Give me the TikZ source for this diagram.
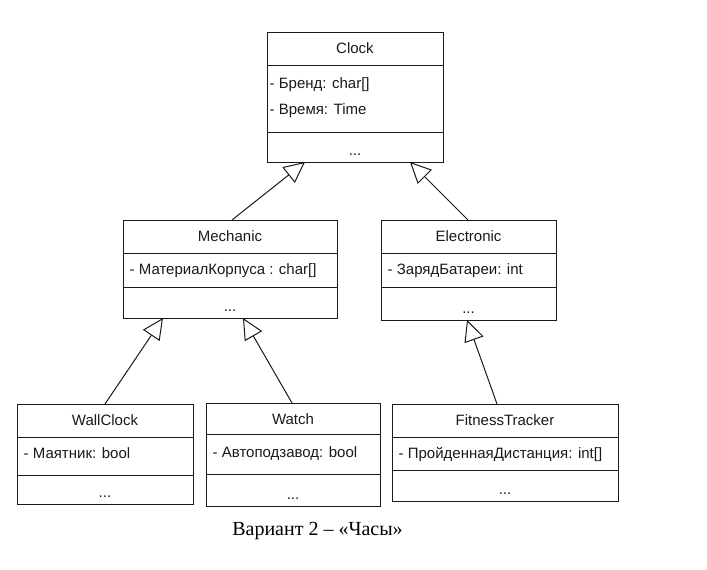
\documentclass[tikz,border=0pt]{standalone}
\usepackage{fontspec}
\setmainfont{Liberation Serif}
\setsansfont{Liberation Sans}
\usetikzlibrary{arrows.meta}
\definecolor{linec}{HTML}{1A1A1A}
\definecolor{textc}{HTML}{1A1A1A}
\newcommand\umlclass[8]{%
  \node[box, minimum width=#4pt, minimum height=#7pt-#3pt] (#1) at (#2,#3) {};
  \draw[boxline] (#2,#5) -- ++(#4,0);
  \draw[boxline] (#2,#6) -- ++(#4,0);
  \node[txt, anchor=base] (#1-title) at ({#2+#4/2},{#3+21.5}) {#8};
  \node[txt, anchor=base] (#1-dots) at ({#2+#4/2},{#7-7}) {...};
}
\begin{document}
\begin{tikzpicture}[x=1pt,y=-1pt,
  boxline/.style={draw=linec, line width=1pt},
  box/.style={boxline, anchor=north west, inner sep=0pt, outer sep=0pt},
  txt/.style={font=\sffamily\fontsize{15}{18}\selectfont, text=textc, inner sep=0pt},
  attr/.style={txt, anchor=base west},
  inh/.style={draw=linec, line width=1pt, -{Triangle[open, length=21pt, width=20pt]}},
  caption/.style={font=\fontsize{20}{24}\selectfont, text=black, inner sep=0pt, anchor=base}]
\useasboundingbox (0,0) rectangle (707,570);
\fill[white] (0,0) rectangle (707,570);

\umlclass{clock}{267}{32}{176}{65}{132}{162}{Clock}
\node[attr] (clock-a1) at (269.5,88) {- Бренд: char[]};
\node[attr] (clock-a2) at (269.5,114) {- Время: Time};

\umlclass{mech}{123}{220}{214}{253}{287}{318}{Mechanic}
\node[attr] (mech-a1) at (129.5,274.5) {- МатериалКорпуса : char[]};

\umlclass{elec}{381}{220}{175}{253}{287}{320}{Electronic}
\node[attr] (elec-a1) at (387.5,274.5) {- ЗарядБатареи: int};

\umlclass{wall}{17}{404}{176}{437}{475}{504}{WallClock}
\node[attr] (wall-a1) at (23.5,458) {- Маятник: bool};

\umlclass{watch}{206}{403}{174}{434}{474}{506}{Watch}
\node[attr] (watch-a1) at (212.5,457) {- Автоподзавод: bool};

\umlclass{fit}{392}{404}{226}{437}{470}{501}{FitnessTracker}
\node[attr] (fit-a1) at (398.5,458) {- ПройденнаяДистанция: int[]};

\draw[inh] ([xshift=109pt]mech.north west) -- ([xshift=38pt]clock.south west);
\draw[inh] ([xshift=87pt]elec.north west) -- ([xshift=143pt]clock.south west);
\draw[inh] ([xshift=88pt]wall.north west) -- ([xshift=40pt]mech.south west);
\draw[inh] ([xshift=86pt]watch.north west) -- ([xshift=120pt]mech.south west);
\draw[inh] ([xshift=105pt]fit.north west) -- ([xshift=86pt]elec.south west);

\node[caption] (cap) at (317.5,535) {Вариант 2 – «Часы»};
\end{tikzpicture}
\end{document}
